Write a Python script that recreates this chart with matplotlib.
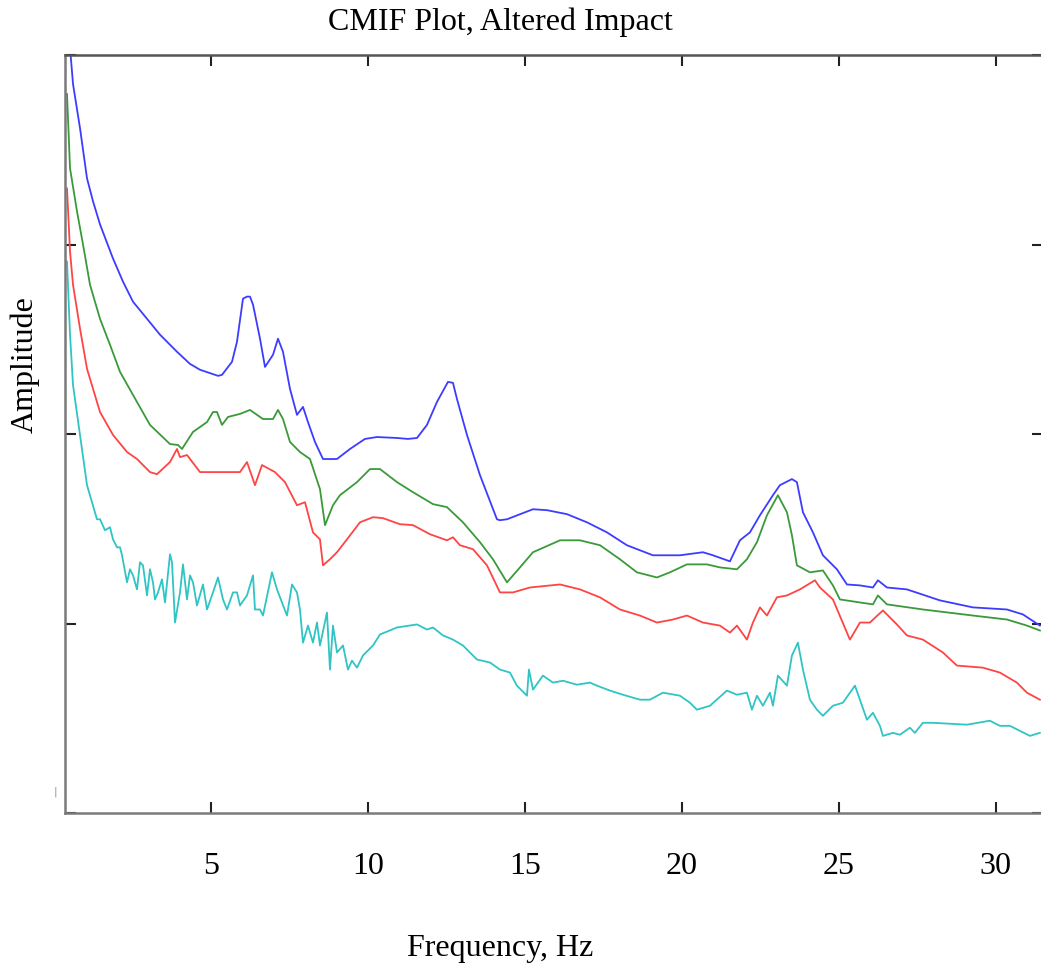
import numpy as np
import matplotlib
matplotlib.use("Agg")
import matplotlib.pyplot as plt
from matplotlib.ticker import FixedLocator, NullLocator, NullFormatter

# Complex mode indicator function: four singular-value curves, log10 amplitude
sv1_freq = [0.532, 0.605, 0.828, 1.051, 1.242, 1.465, 1.879, 2.197, 2.516, 2.962, 3.376, 3.917,
            4.331, 4.650, 5.223, 5.350, 5.669, 5.828, 6.019, 6.146, 6.242, 6.338, 6.561, 6.720,
            6.975, 7.134, 7.293, 7.516, 7.739, 7.930, 8.089, 8.312, 8.567, 9.013, 9.427, 9.904,
            10.287, 10.924, 11.274, 11.561, 11.879, 12.197, 12.548, 12.707, 12.834, 13.153, 13.567,
            14.108, 14.204, 14.427, 15.255, 15.701, 16.338, 16.975, 17.611, 18.248, 19.076, 19.936,
            20.669, 20.987, 21.529, 21.847, 22.166, 22.484, 22.898, 23.121, 23.503, 23.662, 23.854,
            24.172, 24.490, 24.936, 25.255, 25.669, 26.083, 26.242, 26.529, 27.166, 28.217, 29.268,
            30.350, 30.860, 31.401]
sv1_log = [-0.005, -0.153, -0.386, -0.651, -0.772, -0.894, -1.074, -1.196, -1.302, -1.392, -1.476, -1.566,
           -1.630, -1.661, -1.693, -1.688, -1.619, -1.513, -1.286, -1.275, -1.275, -1.317, -1.497, -1.646,
           -1.582, -1.497, -1.566, -1.762, -1.899, -1.857, -1.937, -2.042, -2.132, -2.132, -2.079, -2.026,
           -2.016, -2.021, -2.026, -2.021, -1.952, -1.831, -1.725, -1.730, -1.815, -2.005, -2.217,
           -2.450, -2.455, -2.450, -2.397, -2.402, -2.423, -2.466, -2.519, -2.587, -2.640, -2.640,
           -2.624, -2.640, -2.672, -2.561, -2.519, -2.429, -2.323, -2.270, -2.238, -2.254, -2.413,
           -2.519, -2.640, -2.714, -2.794, -2.799, -2.810, -2.772, -2.810, -2.820, -2.878, -2.915,
           -2.926, -2.952, -3.011]

sv2_freq = [0.414, 0.510, 0.732, 0.924, 1.146, 1.465, 1.783, 2.102, 2.516, 3.057, 3.694, 3.949,
            4.076, 4.427, 4.873, 5.064, 5.191, 5.350, 5.541, 5.924, 6.242, 6.656, 6.975, 7.134,
            7.293, 7.516, 7.834, 8.153, 8.471, 8.631, 8.885, 9.108, 9.650, 10.064, 10.382, 10.924,
            11.433, 12.070, 12.516, 13.025, 13.567, 13.981, 14.427, 14.841, 15.255, 16.115, 16.752,
            17.389, 18.025, 18.567, 19.204, 19.618, 20.159, 20.796, 21.210, 21.752, 22.070, 22.389,
            22.707, 23.057, 23.344, 23.503, 23.662, 24.076, 24.490, 24.809, 25.032, 25.669, 26.083,
            26.242, 26.529, 27.675, 29.268, 30.350, 30.987, 31.401]
sv2_log = [-0.206, -0.598, -0.825, -1.000, -1.212, -1.392, -1.529, -1.672, -1.794, -1.952, -2.053, -2.058,
           -2.079, -1.989, -1.937, -1.884, -1.884, -1.952, -1.910, -1.894, -1.873, -1.921, -1.921, -1.873,
           -1.921, -2.042, -2.095, -2.132, -2.291, -2.481, -2.376, -2.323, -2.254, -2.185, -2.185, -2.254,
           -2.307, -2.370, -2.386, -2.466, -2.571, -2.661, -2.783, -2.704, -2.624, -2.561, -2.561,
           -2.587, -2.661, -2.730, -2.757, -2.730, -2.688, -2.688, -2.704, -2.714, -2.661, -2.571,
           -2.429, -2.323, -2.413, -2.534, -2.693, -2.730, -2.720, -2.799, -2.873, -2.889, -2.899,
           -2.852, -2.899, -2.926, -2.958, -2.979, -3.011, -3.037]

sv3_freq = [0.414, 0.510, 0.605, 0.828, 1.051, 1.465, 1.879, 2.325, 2.643, 3.057, 3.280, 3.694,
            3.917, 4.013, 4.236, 4.650, 5.924, 6.146, 6.401, 6.624, 7.038, 7.357, 7.739, 7.994,
            8.248, 8.471, 8.567, 8.790, 9.013, 9.331, 9.745, 10.159, 10.478, 11.019, 11.433, 11.975,
            12.516, 12.707, 12.930, 13.344, 13.790, 14.204, 14.618, 15.159, 16.115, 16.752, 17.389,
            18.025, 18.662, 19.204, 19.713, 20.159, 20.669, 21.210, 21.529, 21.752, 22.070, 22.261,
            22.484, 22.707, 23.025, 23.344, 23.758, 24.236, 24.395, 24.809, 25.350, 25.669, 25.987,
            26.401, 26.847, 27.166, 27.675, 28.312, 28.758, 29.586, 30.127, 30.669, 30.987, 31.401]
sv3_log = [-0.704, -1.037, -1.212, -1.444, -1.656, -1.884, -2.005, -2.095, -2.132, -2.201, -2.212, -2.148,
           -2.079, -2.122, -2.111, -2.201, -2.201, -2.148, -2.270, -2.164, -2.201, -2.254, -2.376, -2.360,
           -2.519, -2.556, -2.693, -2.661, -2.624, -2.556, -2.466, -2.439, -2.444, -2.476, -2.481, -2.529,
           -2.561, -2.545, -2.587, -2.608, -2.693, -2.836, -2.836, -2.810, -2.794, -2.820, -2.862,
           -2.926, -2.958, -2.995, -2.979, -2.958, -2.995, -3.011, -3.048, -3.011, -3.085, -2.995,
           -2.915, -2.958, -2.862, -2.852, -2.820, -2.772, -2.810, -2.873, -3.085, -2.995, -2.995,
           -2.931, -3.005, -3.063, -3.085, -3.153, -3.222, -3.233, -3.259, -3.312, -3.365, -3.402]

sv4_freq = [0.414, 0.510, 0.605, 0.828, 1.051, 1.369, 1.465, 1.624, 1.783, 1.879, 2.006, 2.102,
            2.166, 2.325, 2.420, 2.516, 2.643, 2.739, 2.834, 2.962, 3.057, 3.153, 3.217, 3.312,
            3.439, 3.535, 3.694, 3.758, 3.854, 4.013, 4.108, 4.236, 4.331, 4.427, 4.554, 4.745,
            4.873, 5.064, 5.223, 5.382, 5.510, 5.701, 5.828, 5.924, 6.146, 6.338, 6.401, 6.561,
            6.656, 6.943, 7.102, 7.420, 7.580, 7.739, 7.834, 7.930, 8.089, 8.248, 8.376, 8.471,
            8.694, 8.790, 8.885, 9.013, 9.204, 9.363, 9.490, 9.650, 9.841, 10.159, 10.382, 10.924,
            11.561, 11.879, 12.070, 12.389, 12.707, 13.025, 13.248, 13.471, 13.885, 14.204, 14.522,
            14.745, 15.064, 15.127, 15.255, 15.573, 15.892, 16.210, 16.656, 17.070, 17.293, 17.707,
            18.121, 18.662, 18.981, 19.395, 19.936, 20.255, 20.478, 20.892, 21.433, 21.752, 22.070,
            22.229, 22.389, 22.580, 22.803, 22.898, 23.057, 23.344, 23.503, 23.694, 23.854, 24.076,
            24.299, 24.490, 24.809, 25.127, 25.510, 25.669, 25.892, 26.083, 26.306, 26.401, 26.720,
            26.943, 27.261, 27.420, 27.675, 27.994, 29.076, 29.809, 30.127, 30.446, 31.083, 31.401]
sv4_log = [-1.090, -1.476, -1.741, -2.005, -2.270, -2.450, -2.450, -2.508, -2.492, -2.556, -2.598, -2.598,
           -2.640, -2.783, -2.714, -2.746, -2.820, -2.677, -2.693, -2.852, -2.714, -2.783, -2.873, -2.836,
           -2.767, -2.889, -2.635, -2.677, -2.995, -2.836, -2.688, -2.873, -2.746, -2.783, -2.905, -2.794,
           -2.926, -2.836, -2.757, -2.873, -2.926, -2.836, -2.836, -2.905, -2.852, -2.746, -2.926, -2.926,
           -2.958, -2.730, -2.820, -2.958, -2.794, -2.836, -2.926, -3.101, -3.011, -3.101, -2.995, -3.116,
           -2.942, -3.243, -3.011, -3.153, -3.116, -3.243, -3.196, -3.233, -3.169, -3.116, -3.058, -3.021,
           -3.005, -3.032, -3.021, -3.063, -3.085, -3.116, -3.153, -3.190, -3.206, -3.243, -3.259,
           -3.328, -3.381, -3.243, -3.349, -3.275, -3.312, -3.302, -3.323, -3.312, -3.328, -3.354,
           -3.376, -3.402, -3.402, -3.365, -3.381, -3.418, -3.455, -3.434, -3.354, -3.376, -3.365,
           -3.455, -3.381, -3.434, -3.365, -3.434, -3.275, -3.328, -3.169, -3.101, -3.243, -3.402,
           -3.455, -3.487, -3.434, -3.418, -3.328, -3.402, -3.508, -3.471, -3.540, -3.593, -3.577,
           -3.587, -3.550, -3.577, -3.524, -3.524, -3.534, -3.513, -3.540, -3.540, -3.593, -3.577]

freq_ticks = [5, 10, 15, 20, 25, 30]
amp_decades = [1e-4, 1e-3, 1e-2, 1e-1, 1e0]

series = [
    (sv1_freq, sv1_log, "#3c3cff"),
    (sv2_freq, sv2_log, "#3a9a3a"),
    (sv3_freq, sv3_log, "#ff4444"),
    (sv4_freq, sv4_log, "#30c4c4"),
]

W, H = 1041, 972
fig = plt.figure(figsize=(W / 100, H / 100), dpi=100)
fig.patch.set_facecolor("white")

left, right, top, bottom = 65, 1043, 55, 813
ax = fig.add_axes([left / W, 1 - bottom / H, (right - left) / W, (bottom - top) / H])

for f, lg, c in series:
    ax.plot(f, 10.0 ** np.asarray(lg), color=c, lw=1.3, solid_joinstyle="round")

ax.set_yscale("log")
ax.set_xlim(0.35, 31.5)
ax.set_ylim(1e-4, 1e0)

ax.xaxis.set_major_locator(FixedLocator(freq_ticks))
ax.yaxis.set_major_locator(FixedLocator(amp_decades))
ax.yaxis.set_minor_locator(NullLocator())
ax.yaxis.set_major_formatter(NullFormatter())
ax.set_xticklabels([str(t) for t in freq_ticks], family="Liberation Serif", fontsize=23)

ax.tick_params(axis="x", which="major", direction="in", length=8, width=1.5,
               top=True, bottom=True, pad=28, color="#222222")
ax.tick_params(axis="y", which="major", direction="in", length=8, width=1.5,
               left=True, right=True, color="#222222")

for side in ("left", "bottom", "top"):
    ax.spines[side].set_color("#7a7a7a")
    ax.spines[side].set_linewidth(1.8)
ax.spines["top"].set_color("#555555")
ax.spines["right"].set_visible(False)

fig.text(500 / W, 1 - 22 / H, "CMIF Plot, Altered Impact", family="Liberation Serif",
         fontsize=23, ha="center", va="center")
fig.text(500 / W, 1 - 948 / H, "Frequency, Hz", family="Liberation Serif",
         fontsize=23, ha="center", va="center")
fig.text(25 / W, 1 - 365 / H, "Amplitude", family="Liberation Serif",
         fontsize=23, ha="center", va="center", rotation=90)
fig.text(55 / W, 1 - 792 / H, "|", family="DejaVu Sans", fontsize=8,
         color="#8090b0", ha="center", va="center")

fig.savefig("out.png", dpi=100, facecolor="white")
